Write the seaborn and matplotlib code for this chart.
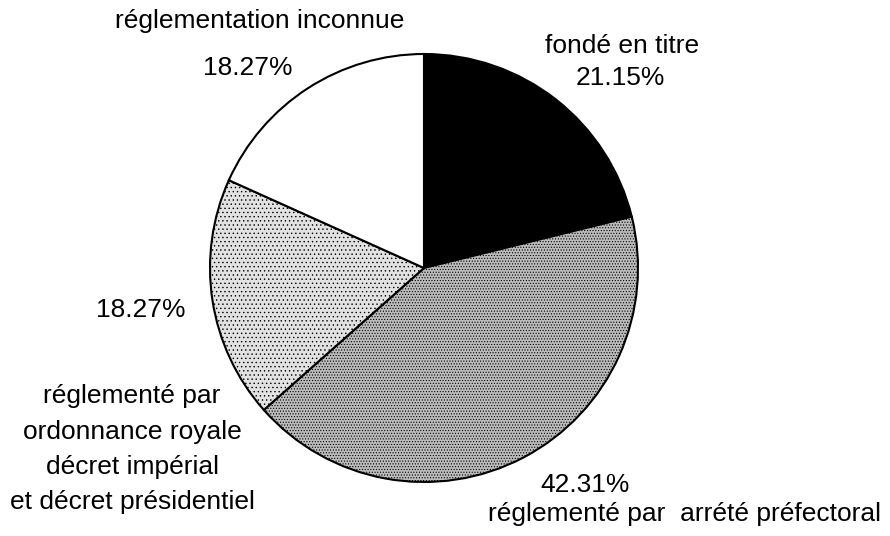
import matplotlib
matplotlib.use("Agg")
import matplotlib.pyplot as plt
import seaborn as sns

# Share of sites by legal basis (percent)
categories = [
    "fondé en titre",
    "réglementé par  arrété préfectoral",
    "réglementé par\nordonnance royale\ndécret impérial\net décret présidentiel",
    "réglementation inconnue",
]
shares = [21.15, 42.31, 18.27, 18.27]

fills = ["#000000", "#bcbcbc", "#e2e2e2", "#ffffff"]
hatches = ["", "......", "....", ""]

sns.set_theme(style="white")
plt.rcParams["font.family"] = ["Liberation Sans", "DejaVu Sans"]
plt.rcParams["hatch.color"] = "#3a3a3a"
plt.rcParams["hatch.linewidth"] = 0.5

W, H = 890, 536
fig = plt.figure(figsize=(W / 100, H / 100), dpi=100)
ax = fig.add_axes([0, 0, 1, 1])

# pixel-like coordinates with y pointing down; the pie starts at 12 o'clock
# and runs clockwise on screen
center = (424, 268)
radius = 214
wedges, _ = ax.pie(
    shares,
    colors=fills,
    startangle=-90,
    counterclock=True,
    center=center,
    radius=radius,
    wedgeprops=dict(edgecolor="black", linewidth=1.5),
)
for w, h in zip(wedges, hatches):
    if h:
        w.set_hatch(h)

ax.set_xlim(0, W)
ax.set_ylim(H, 0)
ax.set_aspect("equal")
ax.axis("off")

pct = [f"{v:.2f}%" for v in shares]
txt = dict(ha="center", va="baseline", fontsize=19, color="black")

# fondé en titre
ax.text(622, 53, categories[0], **txt)
ax.text(620, 85, pct[0], **txt)
# arrêté préfectoral
ax.text(585, 492, pct[1], **txt)
ax.text(684, 521, categories[1], **txt)
# ordonnance / décret: one line per row
ax.text(141, 317, pct[2], **txt)
for i, line in enumerate(categories[2].split("\n")):
    ax.text(132, 403 + i * 35.5, line, **txt)
# inconnue
ax.text(260, 28, categories[3], **txt)
ax.text(248, 75, pct[3], **txt)

fig.savefig("out.png", dpi=100)
